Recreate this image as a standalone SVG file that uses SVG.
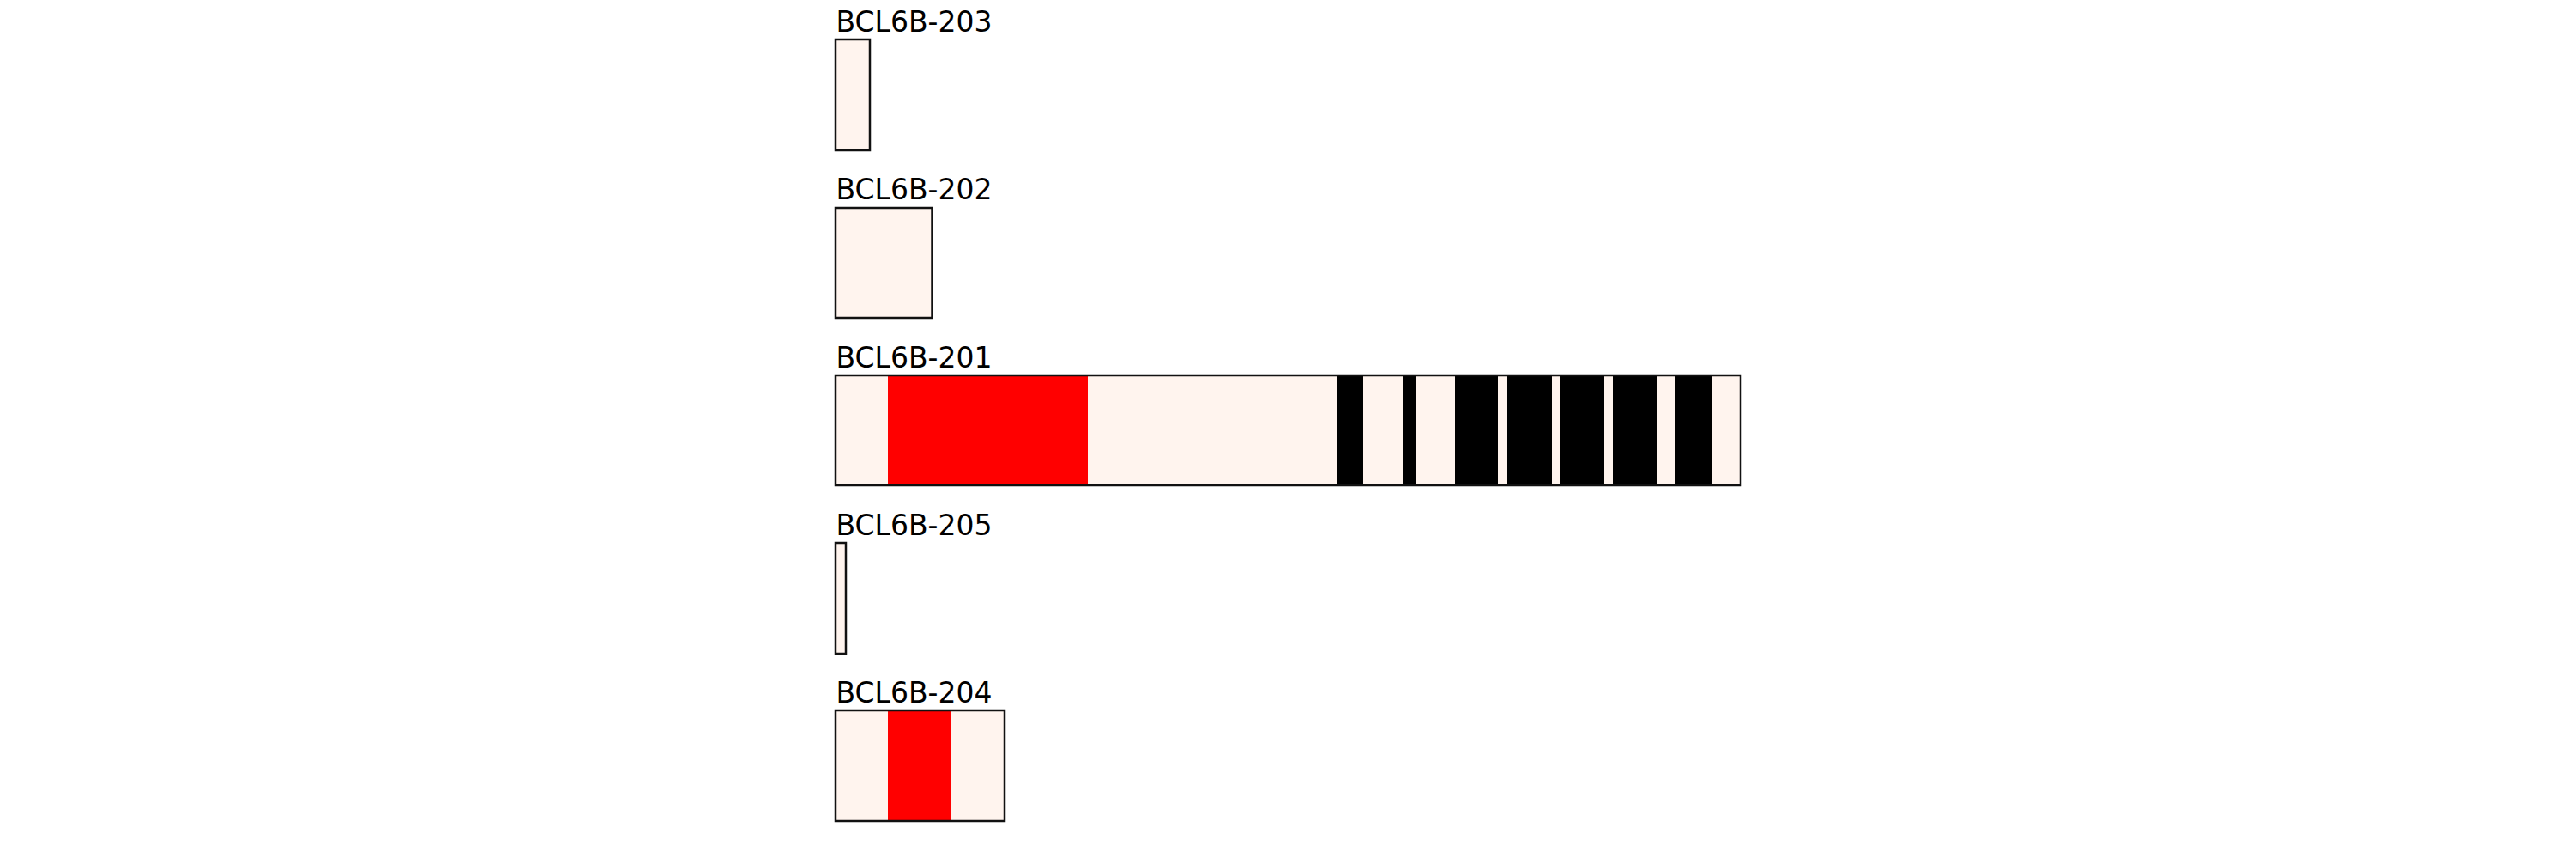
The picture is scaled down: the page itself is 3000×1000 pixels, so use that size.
<svg xmlns="http://www.w3.org/2000/svg" width="3000" height="1000" viewBox="0 0 3000 1000">
<style>
.lbl{font-family:"DejaVu Sans",sans-serif;font-size:33px;fill:#000}
.tx{fill:#fff4ee;stroke:none}
.out{fill:none;stroke:#111;stroke-width:2.5}
.red{fill:#ff0000}
.blk{fill:#000}
</style>
<rect width="3000" height="1000" fill="#fff"/>
<g id="BCL6B-203">
<text class="lbl" x="973.5" y="37">BCL6B-203</text>
<rect class="tx" x="973" y="46" width="40" height="129"/>
<rect class="out" x="973" y="46" width="40" height="129"/>
</g>
<g id="BCL6B-202">
<text class="lbl" x="973.5" y="232">BCL6B-202</text>
<rect class="tx" x="973" y="242" width="112.5" height="128"/>
<rect class="out" x="973" y="242" width="112.5" height="128"/>
</g>
<g id="BCL6B-201">
<text class="lbl" x="973.5" y="428">BCL6B-201</text>
<rect class="tx" x="973" y="437" width="1054" height="128"/>
<rect class="red" x="1034" y="437" width="233" height="128"/>
<rect class="blk" x="1557" y="437" width="30" height="128"/>
<rect class="blk" x="1634" y="437" width="15" height="128"/>
<rect class="blk" x="1694" y="437" width="51" height="128"/>
<rect class="blk" x="1755" y="437" width="52" height="128"/>
<rect class="blk" x="1817" y="437" width="51" height="128"/>
<rect class="blk" x="1878" y="437" width="52" height="128"/>
<rect class="blk" x="1951" y="437" width="43" height="128"/>
<rect class="out" x="973" y="437" width="1054" height="128"/>
</g>
<g id="BCL6B-205">
<text class="lbl" x="973.5" y="623">BCL6B-205</text>
<rect class="tx" x="973" y="632" width="12" height="129"/>
<rect class="out" x="973" y="632" width="12" height="129"/>
</g>
<g id="BCL6B-204">
<text class="lbl" x="973.5" y="818">BCL6B-204</text>
<rect class="tx" x="973" y="827" width="197" height="129"/>
<rect class="red" x="1034" y="827" width="73" height="129"/>
<rect class="out" x="973" y="827" width="197" height="129"/>
</g>
<g id="connectors"/>
</svg>
